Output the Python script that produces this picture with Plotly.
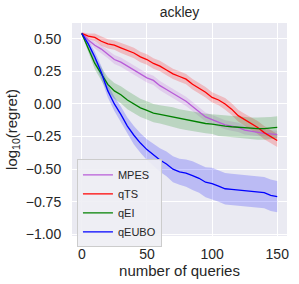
import plotly.graph_objects as go

queries = [0, 5, 10, 15, 20, 25, 30, 35, 40, 45, 50, 55, 60, 65, 70, 75, 80, 85, 90, 95,
           100, 105, 110, 115, 120, 125, 130, 135, 140, 145, 150]

mpes = [0.54, 0.49, 0.45, 0.42, 0.38, 0.34, 0.32, 0.29, 0.26, 0.23, 0.20, 0.18, 0.14, 0.11, 0.08, 0.05,
        0.02, -0.02, -0.06, -0.10, -0.12, -0.14, -0.16, -0.17, -0.18, -0.20, -0.21, -0.22, -0.225, -0.23, -0.235]
mpes_err = [0.01, 0.02, 0.025, 0.03, 0.03, 0.035, 0.035, 0.035, 0.035, 0.035, 0.035, 0.035, 0.035, 0.035, 0.035, 0.035,
            0.035, 0.035, 0.035, 0.035, 0.035, 0.035, 0.035, 0.035, 0.035, 0.035, 0.03, 0.03, 0.03, 0.03, 0.03]

qts = [0.54, 0.52, 0.51, 0.48, 0.46, 0.45, 0.43, 0.41, 0.39, 0.36, 0.34, 0.31, 0.29, 0.26, 0.23, 0.21,
       0.19, 0.15, 0.12, 0.09, 0.05, 0.03, 0.0, -0.04, -0.09, -0.12, -0.15, -0.18, -0.22, -0.25, -0.28]
qts_err = [0.01, 0.02, 0.03, 0.035, 0.035, 0.035, 0.04, 0.04, 0.04, 0.04, 0.04, 0.04, 0.04, 0.04, 0.04, 0.04,
           0.04, 0.04, 0.04, 0.04, 0.04, 0.04, 0.045, 0.045, 0.045, 0.045, 0.05, 0.05, 0.05, 0.05, 0.05]

qei = [0.54, 0.43, 0.31, 0.23, 0.15, 0.10, 0.07, 0.03, 0.0, -0.03, -0.05, -0.07, -0.08, -0.09, -0.10, -0.115,
       -0.125, -0.135, -0.145, -0.15, -0.155, -0.165, -0.17, -0.175, -0.18, -0.185, -0.19, -0.19, -0.19, -0.185, -0.18]
qei_err = [0.01, 0.03, 0.045, 0.05, 0.055, 0.06, 0.065, 0.07, 0.07, 0.07, 0.07, 0.07, 0.07, 0.075, 0.075, 0.075,
           0.075, 0.075, 0.075, 0.075, 0.075, 0.08, 0.08, 0.08, 0.08, 0.08, 0.085, 0.085, 0.085, 0.085, 0.085]

qeubo = [0.54, 0.46, 0.36, 0.24, 0.10, 0.0, -0.08, -0.17, -0.24, -0.30, -0.35, -0.39, -0.43, -0.46, -0.50, -0.52,
         -0.53, -0.55, -0.57, -0.60, -0.61, -0.63, -0.65, -0.655, -0.66, -0.66, -0.665, -0.67, -0.68, -0.70, -0.71]
qeubo_err = [0.01, 0.03, 0.04, 0.05, 0.05, 0.055, 0.06, 0.065, 0.07, 0.075, 0.08, 0.085, 0.09, 0.095, 0.1, 0.1,
             0.105, 0.11, 0.11, 0.115, 0.12, 0.12, 0.12, 0.12, 0.12, 0.12, 0.12, 0.12, 0.12, 0.12, 0.12]

series = [
    ("MPES", mpes, mpes_err, "#B85CD8", "rgba(184,92,216,0.2)"),
    ("qTS", qts, qts_err, "#FF0000", "rgba(255,0,0,0.2)"),
    ("qEI", qei, qei_err, "#008000", "rgba(0,128,0,0.2)"),
    ("qEUBO", qeubo, qeubo_err, "#0000FF", "rgba(0,0,255,0.2)"),
]

fig = go.Figure()
for name, mean, err, color, fill in series:
    upper = [m + e for m, e in zip(mean, err)]
    lower = [m - e for m, e in zip(mean, err)]
    fig.add_trace(go.Scatter(x=queries, y=upper, mode="lines", line=dict(width=0, color=fill),
                             showlegend=False, hoverinfo="skip"))
    fig.add_trace(go.Scatter(x=queries, y=lower, mode="lines", line=dict(width=0, color=fill),
                             fill="tonexty", fillcolor=fill, showlegend=False, hoverinfo="skip"))
for name, mean, err, color, fill in series:
    fig.add_trace(go.Scatter(x=queries, y=mean, mode="lines", name=name,
                             line=dict(color=color, width=1.3)))

font = "Liberation Sans, Arial, sans-serif"
fig.update_layout(
    width=299, height=284,
    margin=dict(l=72, r=10, t=23, b=45),
    paper_bgcolor="white",
    plot_bgcolor="#EAEAF2",
    font=dict(family=font, size=14, color="#262626"),
    title=dict(text="ackley", x=0.5, xref="paper", y=0.958, yref="container",
               yanchor="middle", xanchor="center", font=dict(size=14, color="#262626")),
    showlegend=True,
    legend=dict(x=0.023, y=0.36, xanchor="left", yanchor="top", traceorder="normal",
                bgcolor="rgba(238,238,244,0.9)", bordercolor="#CCCCCC", borderwidth=1,
                font=dict(size=11, color="#262626"), tracegroupgap=0, itemwidth=30),
    xaxis=dict(range=[-7.5, 157.5], tickvals=[0, 50, 100, 150], showgrid=True, gridcolor="white",
               gridwidth=1, zeroline=False, ticks="outside", ticklen=5, tickcolor="rgba(0,0,0,0)",
               title=dict(text="number of queries", standoff=2, font=dict(size=15)),
               tickfont=dict(size=14), showline=False),
    yaxis=dict(range=[-1.012, 0.62], tickvals=[-1.0, -0.75, -0.5, -0.25, 0.0, 0.25, 0.5],
               tickformat=".2f", showgrid=True, gridcolor="white", gridwidth=1, zeroline=False,
               ticks="outside", ticklen=7, tickcolor="rgba(0,0,0,0)",
               title=dict(text="log<sub>10</sub>(regret)", standoff=4, font=dict(size=15)),
               tickfont=dict(size=14), showline=False),
)

fig.write_html("out.html", config={"displayModeBar": False},
               post_script="document.body.style.margin='0';document.body.style.overflow='hidden';")
